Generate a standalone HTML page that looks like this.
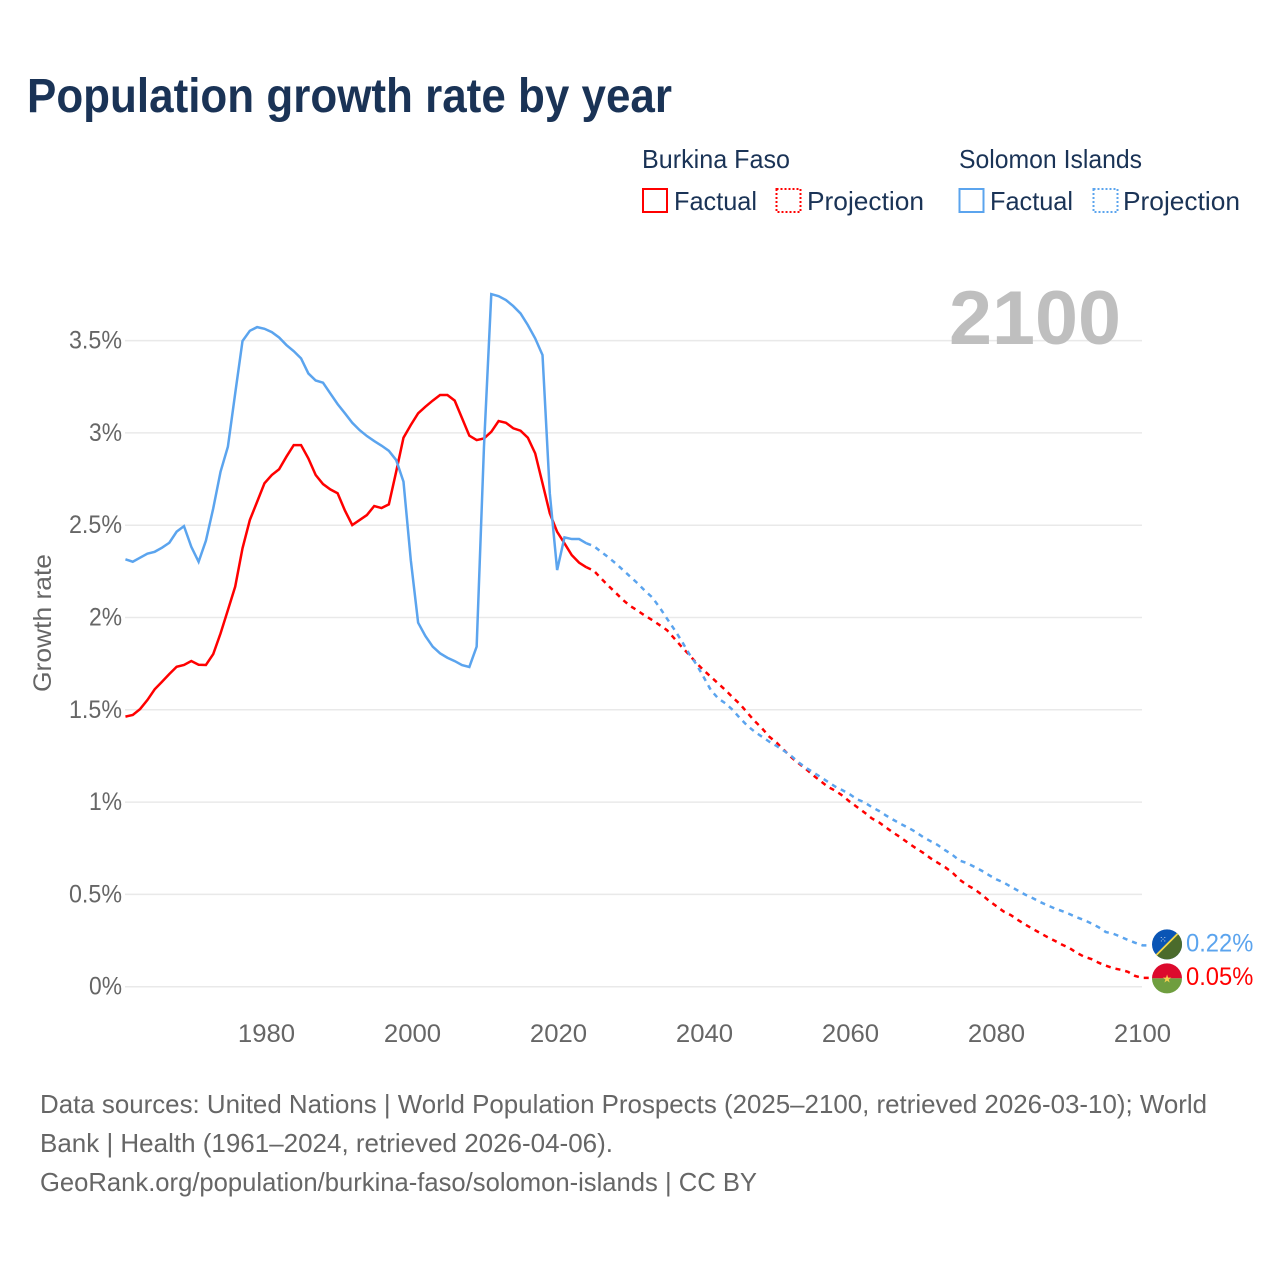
<!DOCTYPE html>
<html lang="en">
<head>
<meta charset="utf-8">
<title>Population growth rate by year</title>
<style>
html,body{margin:0;padding:0;background:#fff;}
svg{display:block;font-family:"Liberation Sans",sans-serif;}
</style>
</head>
<body>
<svg id="chart" width="1280" height="1280" viewBox="0 0 1280 1280" xmlns="http://www.w3.org/2000/svg">
  <defs>
    <clipPath id="flag-clip-sb"><circle id="clip-sb" cx="1167" cy="944" r="15"></circle></clipPath>
    <clipPath id="flag-clip-bf"><circle id="clip-bf" cx="1167" cy="978" r="15"></circle></clipPath>
  </defs>
  <text x="27" y="112" font-size="48" font-weight="700" fill="#1a3356" textLength="645" lengthAdjust="spacingAndGlyphs">Population growth rate by year</text>

  <g font-size="26" fill="#1a3356">
    <text x="642" y="168" textLength="148" lengthAdjust="spacingAndGlyphs">Burkina Faso</text>
    <text x="959" y="168" textLength="183" lengthAdjust="spacingAndGlyphs">Solomon Islands</text>
    <rect x="643" y="189" width="24" height="23" fill="none" stroke="#ff0000" stroke-width="2"></rect>
    <text x="674" y="210" textLength="83" lengthAdjust="spacingAndGlyphs">Factual</text>
    <rect x="776.5" y="189" width="24" height="23" fill="none" stroke="#ff0000" stroke-width="2" stroke-dasharray="2 2"></rect>
    <text x="807" y="210" textLength="117" lengthAdjust="spacingAndGlyphs">Projection</text>
    <rect x="959.5" y="189" width="24" height="23" fill="none" stroke="#5ba4ee" stroke-width="2"></rect>
    <text x="990" y="210" textLength="83" lengthAdjust="spacingAndGlyphs">Factual</text>
    <rect x="1093.5" y="189" width="24" height="23" fill="none" stroke="#5ba4ee" stroke-width="2" stroke-dasharray="2 2"></rect>
    <text x="1123" y="210" textLength="117" lengthAdjust="spacingAndGlyphs">Projection</text>
  </g>

  <g id="grid"></g>
  <text x="949" y="344" font-size="76" font-weight="700" fill="#bfbfbf" textLength="172" lengthAdjust="spacingAndGlyphs">2100</text>
  <g id="y-ticks"></g>
  <g id="x-ticks"></g>
  <text transform="translate(51,692) rotate(-90)" font-size="25" fill="#666666" textLength="138" lengthAdjust="spacingAndGlyphs">Growth rate</text>
  <g id="series"></g>

  <g id="flag-sb" clip-path="url(#flag-clip-sb)"></g>
  <g id="flag-bf" clip-path="url(#flag-clip-bf)"></g>
  <g id="end-labels"></g>

  <g font-size="26" fill="#666666">
    <text x="40" y="1113" textLength="1167" lengthAdjust="spacingAndGlyphs">Data sources: United Nations | World Population Prospects (2025–2100, retrieved 2026-03-10); World</text>
    <text x="40" y="1152" textLength="573" lengthAdjust="spacingAndGlyphs">Bank | Health (1961–2024, retrieved 2026-04-06).</text>
    <text x="40" y="1191" textLength="717" lengthAdjust="spacingAndGlyphs">GeoRank.org/population/burkina-faso/solomon-islands | CC BY</text>
  </g>
</svg>
<script>
const factualStartYear = 1961;
const projectionStartYear = 2025;
const yTicks = [0, 0.5, 1, 1.5, 2, 2.5, 3, 3.5];
const yTickLabels = ["0%", "0.5%", "1%", "1.5%", "2%", "2.5%", "3%", "3.5%"];
const xTicks = [1980, 2000, 2020, 2040, 2060, 2080, 2100];
const xTickLabels = ["1980", "2000", "2020", "2040", "2060", "2080", "2100"];

const burkinaFactual = [
  1.463,1.472,1.504,1.553,1.611,1.652,1.694,1.733,1.743,1.764,
  1.744,1.743,1.802,1.914,2.04,2.167,2.375,2.528,2.627,2.727,
  2.772,2.803,2.871,2.934,2.934,2.862,2.772,2.723,2.694,2.673,
  2.579,2.501,2.528,2.555,2.604,2.593,2.613,2.79,2.974,3.043,
  3.106,3.142,3.175,3.205,3.205,3.175,3.08,2.985,2.961,2.97,
  3.006,3.064,3.055,3.025,3.012,2.974,2.889,2.727,2.564,2.464,
  2.402,2.338,2.297,2.272
];
const burkinaProjection = [
  2.254,2.212,2.172,2.134,2.095,2.062,2.037,2.01,1.986,1.959,
  1.932,1.887,1.842,1.8,1.755,1.715,1.679,1.643,1.607,1.567,
  1.53,1.484,1.439,1.4,1.354,1.322,1.282,1.243,1.21,1.179,
  1.145,1.114,1.083,1.062,1.035,1.002,0.973,0.944,0.912,0.89,
  0.861,0.833,0.807,0.778,0.751,0.726,0.697,0.672,0.648,0.619,
  0.58,0.551,0.529,0.5,0.466,0.437,0.408,0.388,0.361,0.336,
  0.313,0.291,0.269,0.249,0.228,0.21,0.184,0.163,0.15,0.13,
  0.114,0.1,0.092,0.081,0.058,0.048
];
const solomonFactual = [
  2.315,2.302,2.324,2.346,2.356,2.378,2.405,2.465,2.495,2.383,
  2.302,2.416,2.591,2.79,2.925,3.214,3.498,3.553,3.573,3.564,
  3.546,3.517,3.476,3.443,3.404,3.322,3.284,3.272,3.214,3.156,
  3.106,3.055,3.015,2.983,2.956,2.931,2.903,2.853,2.736,2.311,
  1.972,1.899,1.842,1.806,1.782,1.764,1.742,1.732,1.842,2.925,
  3.752,3.741,3.72,3.687,3.647,3.584,3.512,3.422,2.672,2.257,
  2.434,2.425,2.425,2.402
];
const solomonProjection = [
  2.387,2.356,2.326,2.293,2.257,2.221,2.185,2.145,2.109,2.055,
  1.995,1.936,1.874,1.806,1.748,1.679,1.607,1.562,1.535,1.499,
  1.454,1.414,1.381,1.354,1.327,1.304,1.278,1.25,1.215,1.186,
  1.161,1.136,1.11,1.084,1.064,1.042,1.015,0.999,0.973,0.952,
  0.926,0.903,0.881,0.861,0.838,0.811,0.789,0.768,0.74,0.715,
  0.683,0.67,0.65,0.629,0.605,0.582,0.565,0.542,0.52,0.498,
  0.48,0.459,0.441,0.424,0.41,0.394,0.376,0.361,0.343,0.322,
  0.296,0.287,0.271,0.253,0.238,0.224
];

const NS = "http://www.w3.org/2000/svg";
const RED = "#ff0000";
const BLUE = "#5ba4ee";
const TICK_COLOR = "#666666";

function xScale(year) { return 1142.5 - (2100 - year) * 7.317; }
function xTickScale(year) { return 1142.5 - (2100 - year) * 7.3; }
function yScale(v) { return 986.7 - v * 184.6; }
function make(tag) { return document.createElementNS(NS, tag); }
function labelWidth(s) {
  let w = 0;
  for (const c of s) { w += c === "%" ? 18.7 : c === "." ? 5.7 : 14.3; }
  return w;
}
function pointsFor(values, startYear) {
  return values.map(function (v, i) {
    return xScale(startYear + i).toFixed(2) + "," + yScale(v).toFixed(2);
  }).join(" ");
}
function projectionPoints(factual, projection) {
  const anchor = factual[factual.length - 1];
  const start = xScale(projectionStartYear - 1).toFixed(2) + "," + yScale(anchor).toFixed(2);
  const end = projection[projection.length - 1];
  const tail = "1149.5," + yScale(end).toFixed(2);
  return start + " " + pointsFor(projection, projectionStartYear) + " " + tail;
}

const gridGroup = document.getElementById("grid");
const yTickGroup = document.getElementById("y-ticks");
yTicks.forEach(function (v, i) {
  const line = make("line");
  
  
  line.setAttribute("x1", 125);
  line.setAttribute("x2", 1142);
  line.setAttribute("y1", yScale(v));
  line.setAttribute("y2", yScale(v));
  line.setAttribute("stroke", "#e9e9e9");
  line.setAttribute("stroke-width", "1.5");
  gridGroup.appendChild(line);

  const t = make("text");
  
  
  const w = labelWidth(yTickLabels[i]);
  t.setAttribute("x", 122 - w);
  t.setAttribute("y", yScale(v) + 8);
  t.setAttribute("font-size", "25");
  t.setAttribute("fill", TICK_COLOR);
  t.setAttribute("textLength", w);
  t.setAttribute("lengthAdjust", "spacingAndGlyphs");
  t.textContent = yTickLabels[i];
  yTickGroup.appendChild(t);
});

const xTickGroup = document.getElementById("x-ticks");
xTicks.forEach(function (year, i) {
  const t = make("text");
  
  
  const w = labelWidth(xTickLabels[i]);
  t.setAttribute("x", xTickScale(year) - w / 2);
  t.setAttribute("y", 1042);
  t.setAttribute("font-size", "25");
  t.setAttribute("fill", TICK_COLOR);
  t.setAttribute("textLength", w);
  t.setAttribute("lengthAdjust", "spacingAndGlyphs");
  t.textContent = xTickLabels[i];
  xTickGroup.appendChild(t);
});

const seriesGroup = document.getElementById("series");

const lineBF = make("polyline");


lineBF.setAttribute("points", pointsFor(burkinaFactual, factualStartYear));
lineBF.setAttribute("fill", "none");
lineBF.setAttribute("stroke", RED);
lineBF.setAttribute("stroke-width", "2.5");
seriesGroup.appendChild(lineBF);

const lineSB = make("polyline");


lineSB.setAttribute("points", pointsFor(solomonFactual, factualStartYear));
lineSB.setAttribute("fill", "none");
lineSB.setAttribute("stroke", BLUE);
lineSB.setAttribute("stroke-width", "2.5");
seriesGroup.appendChild(lineSB);

const projBF = make("polyline");


projBF.setAttribute("points", projectionPoints(burkinaFactual, burkinaProjection));
projBF.setAttribute("fill", "none");
projBF.setAttribute("stroke", RED);
projBF.setAttribute("stroke-width", "2.5");
projBF.setAttribute("stroke-dasharray", "5 5");
seriesGroup.appendChild(projBF);

const projSB = make("polyline");


projSB.setAttribute("points", projectionPoints(solomonFactual, solomonProjection));
projSB.setAttribute("fill", "none");
projSB.setAttribute("stroke", BLUE);
projSB.setAttribute("stroke-width", "2.5");
projSB.setAttribute("stroke-dasharray", "5 5");
seriesGroup.appendChild(projSB);

const lastSB = solomonProjection[solomonProjection.length - 1];
const lastBF = burkinaProjection[burkinaProjection.length - 1];
const sbY = yScale(lastSB) - 1;
const bfY = yScale(lastBF) + 0.5;

document.getElementById("clip-sb").setAttribute("cy", sbY);
document.getElementById("clip-bf").setAttribute("cy", bfY);

const flagSB = document.getElementById("flag-sb");
const sbBlue = make("rect");


sbBlue.setAttribute("x", 1150);
sbBlue.setAttribute("y", sbY - 17);
sbBlue.setAttribute("width", 34);
sbBlue.setAttribute("height", 34);
sbBlue.setAttribute("fill", "#0a55b5");
flagSB.appendChild(sbBlue);
const sbGreen = make("polygon");


sbGreen.setAttribute("points", (1150) + "," + (sbY + 17) + " 1184," + (sbY - 17) + " 1184," + (sbY + 17));
sbGreen.setAttribute("fill", "#4b6b2c");
flagSB.appendChild(sbGreen);
const sbBand = make("line");


sbBand.setAttribute("x1", 1150);
sbBand.setAttribute("y1", sbY + 17);
sbBand.setAttribute("x2", 1184);
sbBand.setAttribute("y2", sbY - 17);
sbBand.setAttribute("stroke", "#f4d84a");
sbBand.setAttribute("stroke-width", "1.8");
flagSB.appendChild(sbBand);
const sbStars = make("text");


sbStars.setAttribute("x", 1163);
sbStars.setAttribute("y", sbY - 2);
sbStars.setAttribute("font-size", "9");
sbStars.setAttribute("fill", "#dfe8f5");
sbStars.setAttribute("text-anchor", "middle");
sbStars.textContent = "⁙";
flagSB.appendChild(sbStars);

const flagBF = document.getElementById("flag-bf");
const bfRed = make("rect");


bfRed.setAttribute("x", 1150);
bfRed.setAttribute("y", bfY - 17);
bfRed.setAttribute("width", 34);
bfRed.setAttribute("height", 17);
bfRed.setAttribute("fill", "#dc0a2d");
flagBF.appendChild(bfRed);
const bfGreen = make("rect");


bfGreen.setAttribute("x", 1150);
bfGreen.setAttribute("y", bfY);
bfGreen.setAttribute("width", 34);
bfGreen.setAttribute("height", 17);
bfGreen.setAttribute("fill", "#6f9e3f");
flagBF.appendChild(bfGreen);
const bfStar = make("text");


bfStar.setAttribute("x", 1167);
bfStar.setAttribute("y", bfY + 4);
bfStar.setAttribute("font-size", "11");
bfStar.setAttribute("fill", "#f5d04f");
bfStar.setAttribute("text-anchor", "middle");
bfStar.setAttribute("style", "font-family:'DejaVu Sans',sans-serif");
bfStar.textContent = "★";
flagBF.appendChild(bfStar);

const endGroup = document.getElementById("end-labels");
const endSB = make("text");


const endSBText = lastSB.toFixed(2) + "%";
endSB.setAttribute("x", 1186);
endSB.setAttribute("y", yScale(lastSB) + 6);
endSB.setAttribute("font-size", "25");
endSB.setAttribute("fill", BLUE);
endSB.setAttribute("textLength", labelWidth(endSBText));
endSB.setAttribute("lengthAdjust", "spacingAndGlyphs");
endSB.textContent = endSBText;
endGroup.appendChild(endSB);

const endBF = make("text");


const endBFText = lastBF.toFixed(2) + "%";
endBF.setAttribute("x", 1186);
endBF.setAttribute("y", yScale(lastBF) + 7);
endBF.setAttribute("font-size", "25");
endBF.setAttribute("fill", RED);
endBF.setAttribute("textLength", labelWidth(endBFText));
endBF.setAttribute("lengthAdjust", "spacingAndGlyphs");
endBF.textContent = endBFText;
endGroup.appendChild(endBF);
</script>
</body>
</html>
